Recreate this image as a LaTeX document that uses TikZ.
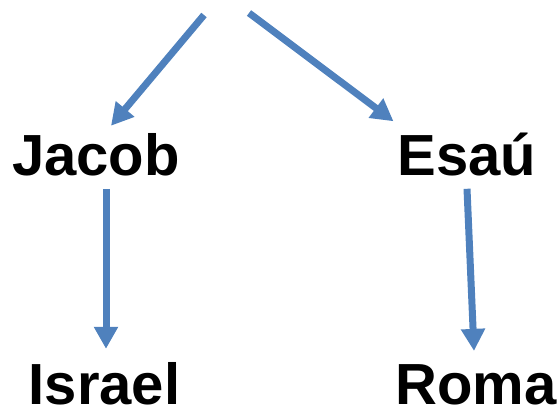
\documentclass[tikz,border=0pt]{standalone}
\usepackage{fontspec}
\setmainfont{Liberation Sans}
\usepackage{tikz}
\usetikzlibrary{%
arrows.meta,
calc,
positioning
}
\definecolor{arrowblue}{HTML}{4F81BD}
\tikzset{
person/.style={inner sep=13pt,anchor=base,font=\bfseries\fontsize{58}{60}\selectfont},
link/.style={draw=arrowblue,line width=7pt,-{Triangle[width=23pt,length=22pt]}}
}
\begin{document}
\begin{tikzpicture}[x=1pt,y=-1pt]
\useasboundingbox (0,0) rectangle (559,408);
        \node[person] (jacob) at (96,175) {Jacob};
        \node[person] (esau) at (467,175) {Esaú};
        \node[person] (israel) at (104.5,404) {Israel};
        \node[person] (roma) at (476,404) {Roma};
        \coordinate (topl) at (204,15);
        \coordinate (topr) at (249,13);
        % ramas
        \draw[link] (topl) -- ([xshift=15pt,yshift=-6pt]jacob.north);
        \draw[link] (topr) -- ([xshift=9pt,yshift=-2pt]esau.north west);
        \draw[link] ([xshift=10pt]jacob.south) -- ([xshift=10pt]jacob.south |- israel.north);
        \draw[link] (esau.south) -- ([xshift=-2pt]roma.north);
\end{tikzpicture}
\end{document}
